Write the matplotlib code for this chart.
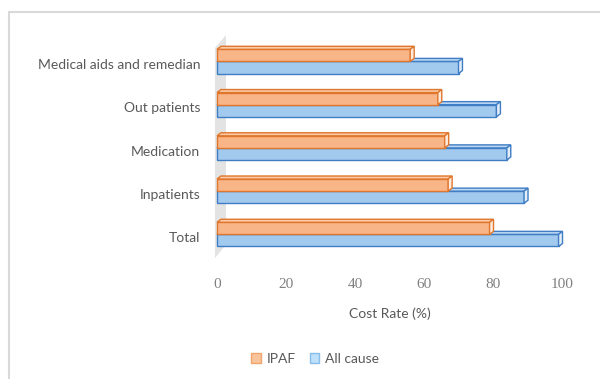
import matplotlib
matplotlib.use("Agg")
import matplotlib.pyplot as plt
from matplotlib.patches import Polygon, Rectangle, Patch

categories = ["Total", "Inpatients", "Medication", "Out patients", "Medical aids and remedian"]
ipaf = [79, 67, 66, 64, 56]
all_cause = [99, 89, 84, 81, 70]
x_ticks = [0, 20, 40, 60, 80, 100]
series_names = ["IPAF", "All cause"]

W, H = 600, 379
fig = plt.figure(figsize=(W / 100, H / 100), dpi=100)

# light outer frame of the chart area (right and bottom run off the canvas)
fig.patches.append(Rectangle((9 / W, -0.1), 1.2, 1.1 - 12 / H, transform=fig.transFigure,
                             fill=False, edgecolor="#d9d9d9", linewidth=1.5))

ax = fig.add_axes([217 / W, 1 - 258.6 / H, 345 / W, 216.2 / H])
ax.set_xlim(0, 100)
ax.set_ylim(-0.5, 4.5)
for s in ax.spines.values():
    s.set_visible(False)

# side wall of the 3-D plot
wall = Polygon([(-0.6, -0.49), (2.6, -0.18), (2.6, 4.67), (-0.6, 4.37)],
               closed=True, facecolor="#dcdcdc", edgecolor="none", alpha=0.8,
               clip_on=False, zorder=1)
ax.add_patch(wall)

DX, DY = 1.15, 0.07
BH = 0.28

orange = dict(face="#F8B587", edge="#E0762C", top="#FBCBA8", end="#FDEBDD")
blue = dict(face="#A2C9EE", edge="#3F7DC4", top="#BCD8F3", end="#E4EEF9")


def bar3d(y0, value, c, z):
    y1 = y0 + BH
    ax.add_patch(Rectangle((0, y0), value, BH, facecolor=c["face"], edgecolor=c["edge"],
                           linewidth=1.0, zorder=z, clip_on=False))
    ax.add_patch(Polygon([(0, y1), (DX, y1 + DY), (value + DX, y1 + DY), (value, y1)],
                         closed=True, facecolor=c["top"], edgecolor=c["edge"],
                         linewidth=1.0, zorder=z, clip_on=False))
    ax.add_patch(Polygon([(value, y0), (value + DX, y0 + DY), (value + DX, y1 + DY), (value, y1)],
                         closed=True, facecolor=c["end"], edgecolor=c["edge"],
                         linewidth=1.0, zorder=z, clip_on=False))


for i in range(len(categories)):
    bar3d(i - 0.22, all_cause[i], blue, 3)
    bar3d(i + 0.06, ipaf[i], orange, 4)

ax.set_yticks(range(len(categories)))
ax.set_yticklabels(categories, fontfamily="Lato", fontsize=10, color="#595959")
ax.set_xticks(x_ticks)
ax.set_xticklabels([str(t) for t in x_ticks], fontfamily="Liberation Serif",
                   fontsize=11, color="#808080")
ax.tick_params(axis="y", length=0, pad=12)
ax.tick_params(axis="x", length=0, pad=14)
ax.set_xlabel("Cost Rate (%)", fontfamily="Lato", fontsize=10, color="#595959", labelpad=12)

handles = [Patch(facecolor="#F9C49C", edgecolor="#F2A46C", label=series_names[0]),
           Patch(facecolor="#BFE0FA", edgecolor="#86BDEB", label=series_names[1])]
leg = fig.legend(handles=handles, loc="center", bbox_to_anchor=(315 / W, 1 - 359 / H),
                 ncol=2, frameon=False, handlelength=0.7, handleheight=0.7,
                 handletextpad=0.4, columnspacing=1.0,
                 prop={"family": "Lato", "size": 10})
for t in leg.get_texts():
    t.set_color("#595959")

fig.savefig("out.png", dpi=100)
